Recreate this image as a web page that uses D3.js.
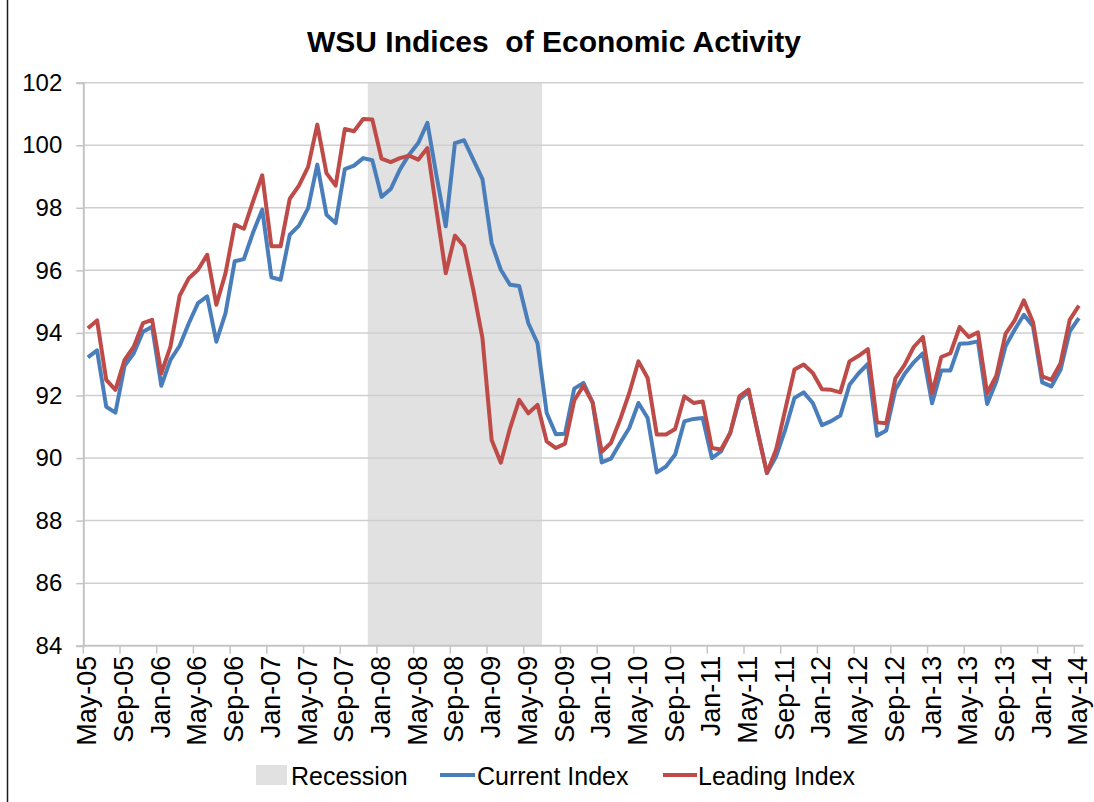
<!DOCTYPE html>
<html>
<head>
<meta charset="utf-8">
<script src="https://cdn.jsdelivr.net/npm/d3@7"></script>
<style>
  body { margin: 0; background: #fff; }
  svg { display: block; font-family: "Liberation Sans", Arial, sans-serif; }
</style>
</head>
<body>
<svg id="chart" width="1094" height="802"></svg>
<script>
// monthly categories May-05 .. May-14
const months = d3.timeMonth.range(new Date(2005, 4, 1), new Date(2014, 5, 1))
const monthLabel = d3.timeFormat("%b-%y")

const currentIndex = [
  93.22, 93.44, 91.64, 91.45, 92.95, 93.35, 94.04, 94.20, 92.31, 93.14, 93.59, 94.31,
  94.95, 95.17, 93.72, 94.63, 96.29, 96.36, 97.21, 97.94, 95.78, 95.70, 97.14, 97.43,
  97.99, 99.38, 97.78, 97.51, 99.24, 99.35, 99.59, 99.52, 98.35, 98.60, 99.22, 99.70,
  100.07, 100.72, 99.01, 97.41, 100.07, 100.16, 99.54, 98.92, 96.87, 96.02, 95.54, 95.50,
  94.31, 93.67, 91.44, 90.76, 90.78, 92.22, 92.40, 91.78, 89.86, 89.98, 90.48, 90.96,
  91.76, 91.28, 89.54, 89.73, 90.11, 91.17, 91.25, 91.28, 90.00, 90.21, 90.80, 91.87,
  92.13, 90.85, 89.52, 90.05, 90.91, 91.92, 92.10, 91.76, 91.05, 91.18, 91.36, 92.34,
  92.71, 93.01, 90.71, 90.88, 92.18, 92.69, 93.06, 93.35, 91.75, 92.80, 92.80, 93.65,
  93.67, 93.73, 91.73, 92.45, 93.57, 94.10, 94.58, 94.21, 92.42, 92.29, 92.82, 94.05,
  94.47
]

const leadingIndex = [
  94.15, 94.40, 92.50, 92.18, 93.14, 93.56, 94.31, 94.42, 92.71, 93.56, 95.19, 95.75,
  96.02, 96.50, 94.90, 95.91, 97.46, 97.33, 98.21, 99.04, 96.77, 96.77, 98.29, 98.71,
  99.31, 100.66, 99.11, 98.71, 100.52, 100.45, 100.84, 100.82, 99.57, 99.46, 99.59, 99.67,
  99.54, 99.91, 97.90, 95.91, 97.11, 96.77, 95.38, 93.83, 90.58, 89.85, 90.95, 91.86,
  91.43, 91.70, 90.53, 90.32, 90.46, 91.84, 92.31, 91.78, 90.20, 90.48, 91.23, 92.08,
  93.09, 92.56, 90.75, 90.75, 90.93, 91.97, 91.76, 91.81, 90.32, 90.27, 90.80, 91.97,
  92.19, 90.80, 89.52, 90.27, 91.55, 92.83, 92.99, 92.72, 92.20, 92.18, 92.10, 93.09,
  93.27, 93.48, 91.14, 91.11, 92.55, 92.98, 93.55, 93.87, 92.07, 93.23, 93.35, 94.19,
  93.87, 94.02, 92.07, 92.63, 93.97, 94.40, 95.04, 94.34, 92.61, 92.50, 93.03, 94.42,
  94.87
]

// recession months (shaded columns)
const recessionStart = "Dec-07"
const recessionEnd = "Jun-09"

const yTicks = [84, 86, 88, 90, 92, 94, 96, 98, 100, 102]
const xTickLabels = ["May-05", "Sep-05", "Jan-06", "May-06", "Sep-06", "Jan-07", "May-07",
  "Sep-07", "Jan-08", "May-08", "Sep-08", "Jan-09", "May-09", "Sep-09", "Jan-10", "May-10",
  "Sep-10", "Jan-11", "May-11", "Sep-11", "Jan-12", "May-12", "Sep-12", "Jan-13", "May-13",
  "Sep-13", "Jan-14", "May-14"]

const cats = months.map(monthLabel)

const svg = d3.select("#chart")

// left edge of the frame
svg.append("line")
  .attr("x1", 7.5).attr("x2", 7.5)
  .attr("y1", 0).attr("y2", 802)
  .attr("stroke", "#1a1a1a")
  .attr("stroke-width", 1.5)

const x = d3.scaleBand()
  .domain(cats)
  .range([83.3, 1083.5])
  .padding(0)

const y = d3.scaleLinear()
  .domain([84, 102])
  .range([645.7, 82.7])

// title
svg.append("text")
  .attr("x", 554)
  .attr("y", 52)
  .attr("text-anchor", "middle")
  .style("font-size", "30px")
  .style("font-weight", "bold")
  .style("white-space", "pre")
  .attr("fill", "#000")
  .text("WSU Indices  of Economic Activity")

// recession shading
const recStartX = x(recessionStart)
const recEndX = x(recessionEnd) + x.bandwidth()
svg.append("rect")
  .attr("x", recStartX)
  .attr("y", y(102))
  .attr("width", recEndX - recStartX)
  .attr("height", y(84) - y(102))
  .attr("fill", "#e1e1e1")

// gridlines
svg.append("g")
  .selectAll("line")
  .data(yTicks.slice(1))
  .enter()
  .append("line")
  .attr("x1", x.range()[0])
  .attr("x2", x.range()[1])
  .attr("y1", d => y(d))
  .attr("y2", d => y(d))
  .attr("stroke", "#cfcfcf")
  .attr("stroke-width", 1.5)

// y axis
const yAxis = svg.append("g")
  .attr("transform", `translate(${x.range()[0]},0)`)
  .call(d3.axisLeft(y).tickValues(yTicks).tickSize(7).tickPadding(14).tickFormat(d3.format("d")))
yAxis.select(".domain").attr("stroke", "#c4c4c4").attr("stroke-width", 2)
yAxis.selectAll(".tick line").attr("stroke", "#c4c4c4").attr("stroke-width", 1.5)
yAxis.selectAll("text")
  .style("font-size", "24px")
  .attr("fill", "#000")
  .attr("font-family", "Liberation Sans, Arial, sans-serif")

// x axis
const xTickCats = cats.filter((c, i) => i % 4 === 0)
const xAxisG = svg.append("g")
xAxisG.append("line")
  .attr("x1", x.range()[0])
  .attr("x2", x.range()[1])
  .attr("y1", y(84))
  .attr("y2", y(84))
  .attr("stroke", "#c4c4c4")
  .attr("stroke-width", 2)
xAxisG.selectAll("line.tick")
  .data(xTickCats)
  .enter()
  .append("line")
  .attr("class", "tick")
  .attr("x1", d => x(d))
  .attr("x2", d => x(d))
  .attr("y1", y(84))
  .attr("y2", y(84) + 8)
  .attr("stroke", "#c4c4c4")
  .attr("stroke-width", 1.5)
xAxisG.selectAll("text")
  .data(xTickLabels)
  .enter()
  .append("text")
  .attr("transform", d => `translate(${x(d) + x.bandwidth() / 2 - 1},${y(84) + 10}) rotate(-90)`)
  .attr("text-anchor", "end")
  .attr("dy", "0.35em")
  .style("font-size", "27px")
  .attr("fill", "#000")
  .text(d => d)

// lines
const line = d3.line()
  .x((d, i) => x(cats[i]) + x.bandwidth() / 2)
  .y(d => y(d))

svg.append("path")
  .datum(currentIndex)
  .attr("fill", "none")
  .attr("stroke", "#4a7ebb")
  .attr("stroke-width", 4)
  .attr("stroke-linejoin", "round")
  .attr("d", line)

svg.append("path")
  .datum(leadingIndex)
  .attr("fill", "none")
  .attr("stroke", "#be4b48")
  .attr("stroke-width", 4)
  .attr("stroke-linejoin", "round")
  .attr("d", line)

// legend
const legend = svg.append("g").style("font-size", "25px")
legend.append("rect")
  .attr("x", 256).attr("y", 765)
  .attr("width", 31).attr("height", 20)
  .attr("fill", "#e1e1e1")
legend.append("text").attr("x", 291).attr("y", 785).text("Recession")

legend.append("line")
  .attr("x1", 440).attr("x2", 475)
  .attr("y1", 775).attr("y2", 775)
  .attr("stroke", "#4a7ebb").attr("stroke-width", 4)
legend.append("text").attr("x", 477).attr("y", 785).text("Current Index")

legend.append("line")
  .attr("x1", 663).attr("x2", 697)
  .attr("y1", 775).attr("y2", 775)
  .attr("stroke", "#be4b48").attr("stroke-width", 4)
legend.append("text").attr("x", 698).attr("y", 785).text("Leading Index")
</script>
</body>
</html>
